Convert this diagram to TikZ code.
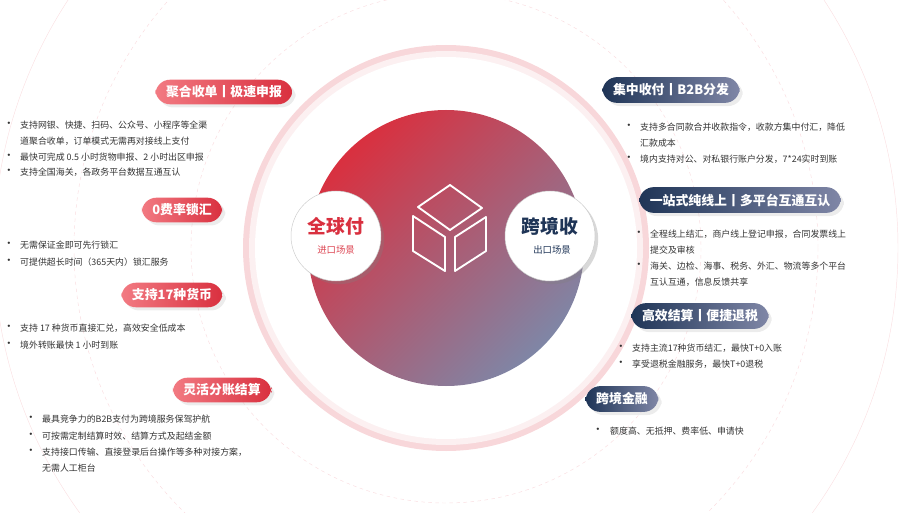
\documentclass[tikz,border=0pt]{standalone}
\usepackage{fontspec}
\setmainfont{Noto Sans CJK SC}
\usetikzlibrary{shadows}

\definecolor{hired}{HTML}{D9303F}
\definecolor{lored}{HTML}{F27A82}
\definecolor{navy}{HTML}{1F3557}
\definecolor{slate}{HTML}{7F86A6}
\definecolor{ink}{HTML}{333333}
\definecolor{ringpink}{HTML}{F6CDD1}

\begin{document}
\begin{tikzpicture}[
            x = 0.03cm, y = -0.03cm, % pixel grid
            redpill/.style = {rounded corners=12.5, left color=lored, right color=hired,
                text=white, font=\bfseries\fontsize{11}{12}\selectfont,
                minimum height=21, inner xsep=9, drop shadow={opacity=0.15}},
            navypill/.style = {rounded corners=12.5, left color=navy, right color=slate,
                text=white, font=\bfseries\fontsize{11}{12}\selectfont,
                minimum height=22, inner xsep=9, drop shadow={opacity=0.15}},
            txt/.style = {anchor=west, inner sep=0, text=ink, font=\fontsize{7.6}{9}\selectfont},
            dot/.style = {anchor=center, inner sep=0, text=ink, font=\fontsize{9.5}{10}\selectfont},
            badge/.style = {circle, fill=white, draw=gray!40, minimum size=90*0.03cm,
                drop shadow={opacity=0.3}}
        ]

        \useasboundingbox (0,0) rectangle (900,513);
        \begin{scope}
            \clip (0,0) rectangle (900,513);
            % faint outer rings
            \draw[ringpink!70, dashed, thin] (446,248) circle (255);
            \draw[ringpink!70, dashed, thin] (446,248) circle (372);
            \draw[ringpink!60, thin] (446,248) circle (452);
        \end{scope}

        % pink ring
        \fill[ringpink!80] (446,248) circle (203);
        \fill[ringpink!30] (446,248) circle (197);
        \fill[white] (446,248) circle (191);

        % centre disc
        \shade[left color=hired, right color=slate, shading angle=45] (446,248) circle (138);

        % cube
        \begin{scope}[white, line width=1.6pt, line join=round]
            \draw (450,185) -- (482,208) -- (450,230) -- (418,207) -- cycle;
            \draw (413,216) -- (445,237) -- (445,271) -- (413,251) -- cycle;
            \draw (455,237) -- (486,217) -- (486,251) -- (455,271) -- cycle;
        \end{scope}

        % badges
        \node[badge] (imp) at (336,236) {};
        \node[badge] (exp) at (550,236) {};
        \node[text=hired, font=\bfseries\fontsize{16}{18}\selectfont] (impt) at (336,226) {全球付};
        \node[text=hired!90, font=\fontsize{8}{9}\selectfont] (imps) at (336,250) {进口场景};
        \node[text=navy, font=\bfseries\fontsize{16}{18}\selectfont] (expt) at (550,226) {跨境收};
        \node[text=navy, font=\fontsize{8}{9}\selectfont] (exps) at (552,250) {出口场景};

        % left pills
        \node[redpill] (p1) at (224,92) {聚合收单丨极速申报};
        \node[redpill] (p2) at (182,210) {0费率锁汇};
        \node[redpill] (p3) at (172,295) {支持17种货币};
        \node[redpill] (p4) at (222,390) {灵活分账结算};

        % right pills
        \node[navypill] (q1) at (671,90) {集中收付丨B2B分发};
        \node[navypill] (q2) at (740,200) {一站式纯线上丨多平台互通互认};
        \node[navypill] (q3) at (700,316) {高效结算丨便捷退税};
        \node[navypill] (q4) at (622,399) {跨境金融};

        % left bullets
        \foreach \y [count=\i] in {125,157,172,245,262,328,345}
            \node[dot] (la\i) at (9,\y) {•};
        \node[txt] (l1) at (20,125) {支持网银、快捷、扫码、公众号、小程序等全渠};
        \node[txt] (l2) at (20,141) {道聚合收单，订单模式无需再对接线上支付};
        \node[txt] (l3) at (20,157) {最快可完成 0.5 小时货物申报、2 小时出区申报};
        \node[txt] (l4) at (20,172) {支持全国海关，各政务平台数据互通互认};
        \node[txt] (l5) at (20,245) {无需保证金即可先行锁汇};
        \node[txt] (l6) at (20,262) {可提供超长时间（365天内）锁汇服务};
        \node[txt] (l7) at (20,328) {支持 17 种货币直接汇兑，高效安全低成本};
        \node[txt] (l8) at (20,345) {境外转账最快 1 小时到账};
        \foreach \y [count=\i] in {419,436,452}
            \node[dot] (lb\i) at (31,\y) {•};
        \node[txt] (l9) at (42,419) {最具竞争力的B2B支付为跨境服务保驾护航};
        \node[txt] (l10) at (42,436) {可按需定制结算时效、结算方式及起结金额};
        \node[txt] (l11) at (42,452) {支持接口传输、直接登录后台操作等多种对接方案，};
        \node[txt] (l12) at (42,468) {无需人工柜台};

        % right bullets
        \foreach \x/\y [count=\i] in {629/127,629/159,639/234,639/266,621/348,621/364,598/431}
            \node[dot] (rb\i) at (\x,\y) {•};
        \node[txt] (r1) at (640,127) {支持多合同款合并收款指令，收款方集中付汇，降低};
        \node[txt] (r2) at (640,143) {汇款成本};
        \node[txt] (r3) at (640,159) {境内支持对公、对私银行账户分发，7*24实时到账};
        \node[txt] (r4) at (650,234) {全程线上结汇，商户线上登记申报，合同发票线上};
        \node[txt] (r5) at (650,250) {提交及审核};
        \node[txt] (r6) at (650,266) {海关、边检、海事、税务、外汇、物流等多个平台};
        \node[txt] (r7) at (650,282) {互认互通，信息反馈共享};
        \node[txt] (r8) at (632,348) {支持主流17种货币结汇，最快T+0入账};
        \node[txt] (r9) at (632,364) {享受退税金融服务，最快T+0退税};
        \node[txt] (r10) at (610,431) {额度高、无抵押、费率低、申请快};

\end{tikzpicture}
\end{document}
